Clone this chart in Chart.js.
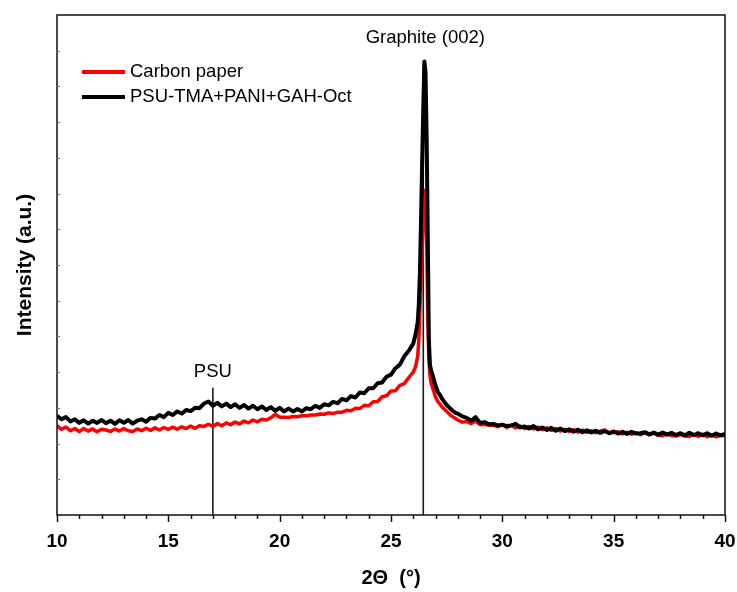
<!DOCTYPE html>
<html lang="en">
<head>
    <meta charset="UTF-8">
    <title>XRD patterns</title>
    <script src="https://cdn.jsdelivr.net/npm/chart.js"></script>
    <style>
    body, html {
        margin: 0;
        padding: 0;
        background-color: #fff;
        overflow: hidden;
    }
    #chart-container {
        width: 737px;
        height: 592px;
    }
    </style>
</head>
<body>
<div id="chart-container">
    <canvas id="xrd" width="737" height="592"></canvas>
</div>
<script>
    // 2-theta positions (deg)
    const twoTheta = [
        10.0, 10.2, 10.4, 10.6, 10.8, 11.0, 11.2, 11.4, 11.6, 11.8,
        12.0, 12.2, 12.4, 12.6, 12.8, 13.0, 13.2, 13.4, 13.6, 13.8,
        14.0, 14.2, 14.4, 14.6, 14.8, 15.0, 15.2, 15.4, 15.6, 15.8,
        16.0, 16.2, 16.4, 16.6, 16.8, 17.0, 17.2, 17.4, 17.6, 17.8,
        18.0, 18.2, 18.4, 18.6, 18.8, 19.0, 19.2, 19.4, 19.6, 19.8,
        20.0, 20.2, 20.4, 20.6, 20.8, 21.0, 21.2, 21.4, 21.6, 21.8,
        22.0, 22.2, 22.4, 22.6, 22.8, 23.0, 23.2, 23.4, 23.6, 23.8,
        24.0, 24.2, 24.4, 24.6, 24.8, 25.0, 25.2, 25.4, 25.6, 25.8,
        26.0, 26.1, 26.2, 26.25, 26.3, 26.35, 26.4, 26.45, 26.5, 26.55,
        26.6, 26.65, 26.7, 26.75, 26.8, 26.9, 27.0, 27.1, 27.2, 27.3,
        27.4, 27.5, 27.6, 27.7, 27.8, 27.9,
        28.0, 28.2, 28.4, 28.6, 28.8, 29.0, 29.2, 29.4, 29.6, 29.8,
        30.0, 30.2, 30.4, 30.6, 30.8, 31.0, 31.2, 31.4, 31.6, 31.8,
        32.0, 32.2, 32.4, 32.6, 32.8, 33.0, 33.2, 33.4, 33.6, 33.8,
        34.0, 34.2, 34.4, 34.6, 34.8, 35.0, 35.2, 35.4, 35.6, 35.8,
        36.0, 36.2, 36.4, 36.6, 36.8, 37.0, 37.2, 37.4, 37.6, 37.8,
        38.0, 38.2, 38.4, 38.6, 38.8, 39.0, 39.2, 39.4, 39.6, 39.8,
        40.0
    ];

    // Intensity (a.u.), carbon paper
    const carbonPaper = [
        2.50, 2.40, 2.46, 2.36, 2.42, 2.34, 2.42, 2.35, 2.41, 2.33,
        2.40, 2.38, 2.34, 2.41, 2.35, 2.42, 2.36, 2.34, 2.41, 2.36,
        2.43, 2.37, 2.44, 2.38, 2.45, 2.40, 2.46, 2.40, 2.47, 2.42,
        2.49, 2.43, 2.50, 2.48, 2.54, 2.48, 2.56, 2.50, 2.58, 2.53,
        2.60, 2.55, 2.63, 2.58, 2.66, 2.61, 2.68, 2.66, 2.72, 2.82,
        2.74, 2.74, 2.73, 2.76, 2.75, 2.78, 2.78, 2.80, 2.80, 2.83,
        2.82, 2.86, 2.84, 2.88, 2.88, 2.93, 2.92, 2.99, 2.98, 3.07,
        3.06, 3.17, 3.18, 3.31, 3.34, 3.47, 3.48, 3.63, 3.68, 3.85,
        4.00, 4.15, 4.45, 4.90, 5.80, 6.60, 7.40, 8.20, 8.80, 9.10,
        7.80, 5.60, 4.40, 3.90, 3.70, 3.50, 3.30, 3.18, 3.10, 3.02,
        2.96, 2.90, 2.84, 2.78, 2.74, 2.70,
        2.66, 2.60, 2.62, 2.56, 2.63, 2.53, 2.54, 2.51, 2.52, 2.47,
        2.53, 2.45, 2.51, 2.44, 2.49, 2.42, 2.48, 2.41, 2.46, 2.39,
        2.44, 2.37, 2.42, 2.35, 2.40, 2.34, 2.39, 2.32, 2.38, 2.31,
        2.36, 2.30, 2.35, 2.38, 2.30, 2.31, 2.33, 2.27, 2.32, 2.26,
        2.31, 2.25, 2.30, 2.24, 2.29, 2.23, 2.22, 2.28, 2.22, 2.21,
        2.26, 2.21, 2.20, 2.25, 2.20, 2.26, 2.19, 2.24, 2.19, 2.23,
        2.21
    ];

    // Intensity (a.u.), PSU-TMA+PANI+GAH-Oct
    const psuComposite = [
        2.78, 2.68, 2.74, 2.62, 2.68, 2.58, 2.65, 2.56, 2.64, 2.58,
        2.66, 2.57, 2.64, 2.55, 2.65, 2.58, 2.66, 2.56, 2.64, 2.68,
        2.61, 2.72, 2.70, 2.80, 2.74, 2.86, 2.80, 2.90, 2.84, 2.94,
        2.91, 3.00, 2.99, 3.12, 3.18, 3.06, 3.14, 3.04, 3.12, 3.02,
        3.10, 3.00, 3.08, 2.98, 3.06, 2.96, 3.04, 2.94, 3.02, 2.92,
        3.00, 2.90, 2.98, 2.90, 2.97, 2.90, 2.99, 2.96, 3.06, 3.00,
        3.10, 3.07, 3.17, 3.13, 3.25, 3.21, 3.33, 3.29, 3.43, 3.41,
        3.55, 3.55, 3.69, 3.71, 3.87, 3.93, 4.11, 4.21, 4.45, 4.60,
        4.80, 5.05, 5.40, 5.90, 6.80, 8.30, 9.90, 11.40, 12.70, 12.40,
        10.60, 7.90, 4.90, 4.20, 4.05, 3.85, 3.62, 3.45, 3.36, 3.25,
        3.16, 3.08, 3.02, 2.96, 2.90, 2.86,
        2.84, 2.76, 2.72, 2.64, 2.74, 2.58, 2.60, 2.54, 2.55, 2.51,
        2.53, 2.49, 2.51, 2.55, 2.45, 2.48, 2.42, 2.49, 2.40, 2.45,
        2.38, 2.44, 2.36, 2.42, 2.35, 2.40, 2.33, 2.39, 2.32, 2.37,
        2.31, 2.36, 2.30, 2.35, 2.29, 2.34, 2.28, 2.33, 2.27, 2.33,
        2.28, 2.29, 2.32, 2.26, 2.31, 2.25, 2.31, 2.25, 2.30, 2.24,
        2.29, 2.23, 2.30, 2.24, 2.29, 2.23, 2.29, 2.22, 2.28, 2.23,
        2.27
    ];

    const seriesLabels = ['Carbon paper', 'PSU-TMA+PANI+GAH-Oct'];

    // reference peak markers
    const markerLabels = ['PSU', 'Graphite (002)'];
    const markerPositions = [17, 26.45];
    const markerHeights = [3.56, 12.6];

    const textFont = '"Liberation Sans", Arial, sans-serif';
    Chart.defaults.font.family = textFont;
    Chart.defaults.color = '#000';

    function toPoints(values) {
        return twoTheta.map((x, i) => ({ x: x, y: values[i] }));
    }

    // frame, tick marks, legend and peak labels
    const decorations = {
        id: 'decorations',
        afterDatasetsDraw(chart) {
            const { ctx, chartArea: a, scales: { x, y } } = chart;
            ctx.save();

            ctx.strokeStyle = '#111';
            ctx.lineWidth = 1.5;
            ctx.strokeRect(a.left, a.top, a.right - a.left, a.bottom - a.top);

            // x ticks pointing out, long ones every 5 deg
            for (let v = 10; v <= 40; v++) {
                const px = Math.round(x.getPixelForValue(v)) + 0.5;
                const len = v % 5 === 0 ? 7 : 4;
                ctx.beginPath();
                ctx.moveTo(px, a.bottom);
                ctx.lineTo(px, a.bottom + len);
                ctx.stroke();
            }

            // little inward ticks on the intensity axis
            ctx.strokeStyle = '#777';
            ctx.lineWidth = 1;
            for (let v = 1; v < 14; v++) {
                const py = Math.round(y.getPixelForValue(v)) + 0.5;
                ctx.beginPath();
                ctx.moveTo(a.left, py);
                ctx.lineTo(a.left + 3, py);
                ctx.stroke();
            }

            // legend
            const colors = ['#ff0000', '#000000'];
            ctx.font = '18.5px ' + textFont;
            ctx.textBaseline = 'middle';
            ctx.textAlign = 'left';
            seriesLabels.forEach((label, i) => {
                const ly = a.top + 57 + i * 25;
                ctx.strokeStyle = colors[i];
                ctx.lineWidth = 4;
                ctx.beginPath();
                ctx.moveTo(a.left + 25, ly);
                ctx.lineTo(a.left + 68, ly);
                ctx.stroke();
                ctx.fillStyle = '#000';
                ctx.fillText(label, a.left + 73, ly);
            });

            // peak labels
            ctx.textAlign = 'center';
            ctx.fillText(markerLabels[0], x.getPixelForValue(markerPositions[0]), y.getPixelForValue(markerHeights[0]) - 16);
            ctx.fillText(markerLabels[1], x.getPixelForValue(markerPositions[1]) + 2, a.top + 23);

            ctx.restore();
        }
    };

    const ctx = document.getElementById('xrd').getContext('2d');

    window.xrdChart = new Chart(ctx, {
        type: 'line',
        data: {
            datasets: [
                {
                    label: seriesLabels[0],
                    data: toPoints(carbonPaper),
                    borderColor: '#ff0000',
                    borderWidth: 3.5,
                    borderJoinStyle: 'round',
                    pointRadius: 0,
                    order: 2
                },
                {
                    label: seriesLabels[1],
                    data: toPoints(psuComposite),
                    borderColor: '#000000',
                    borderWidth: 4,
                    borderJoinStyle: 'round',
                    pointRadius: 0,
                    order: 1
                },
                {
                    label: markerLabels[0],
                    data: [{ x: markerPositions[0], y: 0 }, { x: markerPositions[0], y: markerHeights[0] }],
                    borderColor: '#1a1a1a',
                    borderWidth: 1.6,
                    pointRadius: 0,
                    order: 3
                },
                {
                    label: markerLabels[1],
                    data: [{ x: markerPositions[1], y: 0 }, { x: markerPositions[1], y: markerHeights[1] }],
                    borderColor: '#1a1a1a',
                    borderWidth: 1.6,
                    pointRadius: 0,
                    order: 3
                }
            ]
        },
        options: {
            responsive: false,
            animation: false,
            layout: {
                padding: { top: 15, right: 12, left: 0, bottom: 0 }
            },
            plugins: {
                legend: { display: false },
                tooltip: { enabled: false }
            },
            scales: {
                x: {
                    type: 'linear',
                    min: 10,
                    max: 40,
                    ticks: {
                        stepSize: 5,
                        padding: 15,
                        color: '#000',
                        font: { size: 19, weight: 'bold' }
                    },
                    grid: { display: false, drawTicks: false },
                    border: { display: false },
                    title: {
                        display: true,
                        text: '2\u0398  (\u00b0)',
                        color: '#000',
                        font: { size: 20, weight: 'bold' },
                        padding: { top: 0, bottom: 2 }
                    },
                    afterFit: (scale) => {
                        scale.height = 77;
                        scale.paddingLeft = 0;
                        scale.paddingRight = 0;
                    }
                },
                y: {
                    min: 0,
                    max: 14,
                    ticks: { display: false },
                    grid: { display: false, drawTicks: false },
                    border: { display: false },
                    title: {
                        display: true,
                        text: 'Intensity (a.u.)',
                        color: '#000',
                        font: { size: 21, weight: 'bold' },
                        padding: { top: 13, bottom: 0 }
                    },
                    afterFit: (scale) => { scale.width = 57; }
                }
            }
        },
        plugins: [decorations]
    });
</script>
</body>
</html>
